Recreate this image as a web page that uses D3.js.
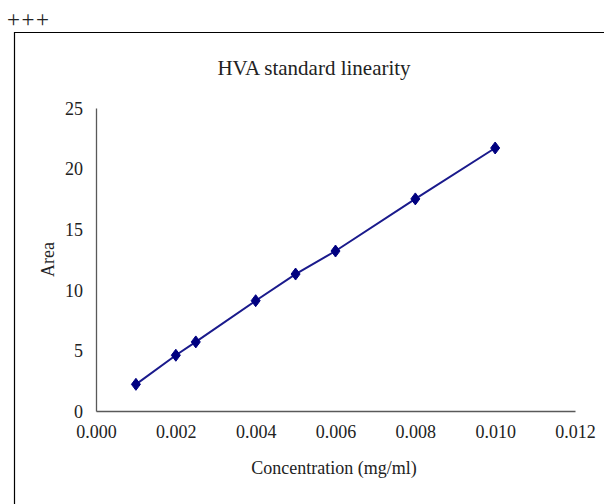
<!DOCTYPE html>
<html lang="en">
<head>
<meta charset="utf-8">
<title>HVA standard linearity</title>
<script src="https://d3js.org/d3.v7.min.js"></script>
<style>
  body { margin: 0; background: #fff; }
  text { font-family: "Liberation Serif", "Times New Roman", serif; fill: #222; }
</style>
</head>
<body>
<div id="chart"></div>
<script>
// data
var concentration = [0.001, 0.002, 0.0025, 0.004, 0.005, 0.006, 0.008, 0.010];
var area = [2.2, 4.6, 5.7, 9.1, 11.3, 13.2, 17.5, 21.7];
var xTicks = [0, 0.002, 0.004, 0.006, 0.008, 0.010, 0.012];
var yTicks = [0, 5, 10, 15, 20, 25];

var W = 604, H = 504;
var margin = {top: 108, right: 29, bottom: 93, left: 96},
    width = W - margin.left - margin.right,
    height = H - margin.top - margin.bottom;

var svg = d3.select("#chart").append("svg")
  .attr("width", W).attr("height", H);

svg.append("text").attr("x", 7).attr("y", 27)
  .style("font-size", "23px").style("letter-spacing", "1.5px").text("+++");

// chart frame (only top and left edges visible)
svg.append("path")
  .attr("d", "M14.5," + H + "V32.5H" + W)
  .attr("fill", "none").attr("stroke", "#000").attr("stroke-width", 1.2);

svg.append("text").attr("x", 314).attr("y", 75)
  .attr("text-anchor", "middle").style("font-size", "21px")
  .text("HVA standard linearity");

var g = svg.append("g")
  .attr("transform", "translate(" + margin.left + "," + margin.top + ")");

var x = d3.scaleLinear().domain([0, 0.012]).range([0, width]);
var y = d3.scaleLinear().domain([0, 25]).range([height, 0]);

var xAxis = g.append("g")
  .attr("transform", "translate(0," + height + ")")
  .call(d3.axisBottom(x).tickValues(xTicks).tickFormat(d3.format(".3f")).tickSize(0).tickPadding(14));
var yAxis = g.append("g")
  .call(d3.axisLeft(y).tickValues(yTicks).tickSize(0).tickPadding(13));

[xAxis, yAxis].forEach(function(a) {
  a.attr("font-family", "Liberation Serif").attr("font-size", 18);
  a.select(".domain").attr("stroke", "#595959").attr("stroke-width", 1.3);
  a.selectAll("text").attr("fill", "#222");
});
yAxis.selectAll("text").attr("dy", "0.35em");

var pts = concentration.map(function(c, i) { return [c, area[i]]; });

g.append("path").datum(pts)
  .attr("fill", "none").attr("stroke", "#1a1a8c").attr("stroke-width", 2)
  .attr("d", d3.line().x(function(d) { return x(d[0]); }).y(function(d) { return y(d[1]); }));

g.selectAll(".pt").data(pts).enter().append("path")
  .attr("class", "pt")
  .attr("transform", function(d) { return "translate(" + x(d[0]) + "," + y(d[1]) + ")"; })
  .attr("d", "M0,-6L4.5,0L0,6L-4.5,0Z")
  .attr("fill", "#000080").attr("stroke", "#000080");

svg.append("text")
  .attr("transform", "translate(54," + (margin.top + height / 2) + ") rotate(-90)")
  .attr("text-anchor", "middle").style("font-size", "18px").text("Area");

svg.append("text").attr("x", 334).attr("y", 474)
  .attr("text-anchor", "middle").style("font-size", "18px")
  .text("Concentration (mg/ml)");
</script>
</body>
</html>
